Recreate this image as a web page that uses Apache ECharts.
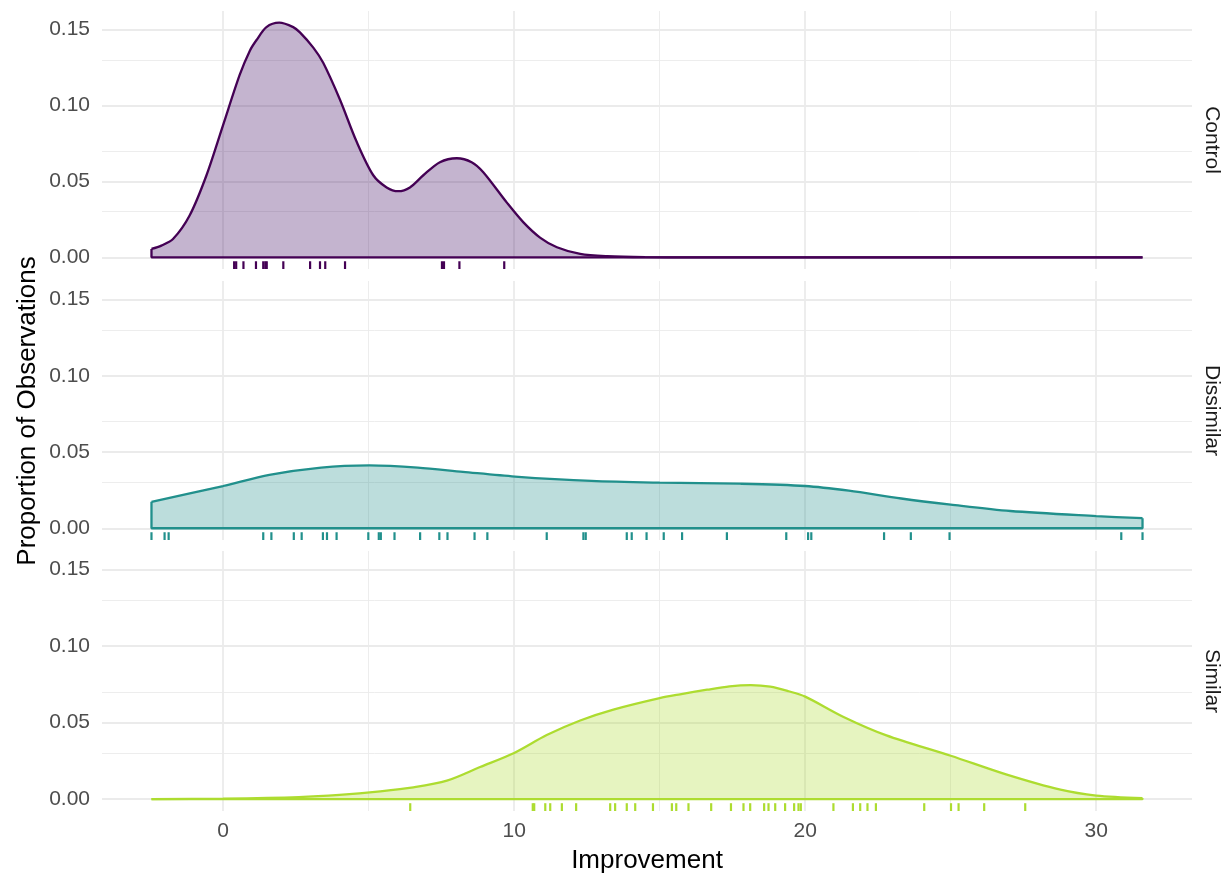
<!DOCTYPE html>
<html><head><meta charset="utf-8">
<script src="https://cdn.jsdelivr.net/npm/echarts@6/dist/echarts.min.js"></script>
<style>html,body{margin:0;padding:0;background:#fff}#c{width:1227px;height:877px}</style>
</head><body><div id="c"></div>
<script>
const groups = ['Control', 'Dissimilar', 'Similar'];
const lineColors = ['#440154', '#21908C', '#ADDC30'];
const fillColors = ['#3a0860', '#21908C', '#ADDC30'];

const controlDensity = [[-2.46,0.0055],[-2.12,0.0077],[-1.72,0.012],[-1.15,0.0275],[-0.57,0.054],[0,0.087],[0.57,0.120],[0.92,0.136],[1.15,0.143],[1.49,0.1515],[1.93,0.1544],[2.41,0.1515],[2.64,0.148],[3.1,0.138],[3.44,0.128],[4.01,0.104],[4.59,0.076],[5.16,0.054],[5.62,0.046],[6.02,0.0435],[6.42,0.046],[6.88,0.054],[7.45,0.0626],[8.03,0.0652],[8.54,0.0626],[8.94,0.056],[9.75,0.036],[10.32,0.023],[10.89,0.013],[11.47,0.0066],[12.27,0.0022],[13.2,0.0007],[14.5,0.0001],[16,0],[31.59,0]];
const dissimilarDensity = [[-2.46,0.0173],[0,0.0277],[1.59,0.035],[3.37,0.0398],[5.03,0.0412],[6.69,0.0398],[8.24,0.037],[10.03,0.0339],[12.66,0.031],[15.0,0.0299],[17.76,0.0292],[20.0,0.0277],[21.5,0.0246],[23.3,0.0195],[25.0,0.0155],[27.05,0.0113],[30.0,0.008],[31.59,0.0066]];
const similarDensity = [[-2.46,0],[0,0.0004],[2.6,0.0014],[4.0,0.0028],[5.4,0.0051],[6.54,0.0077],[7.69,0.0121],[8.83,0.021],[10.0,0.0302],[11.12,0.0419],[12.27,0.0514],[13.41,0.0585],[15.0,0.066],[15.7,0.0685],[16.63,0.0715],[17.4,0.0737],[18.13,0.0745],[18.8,0.0735],[19.43,0.0705],[20.0,0.067],[21.3,0.0539],[22.79,0.0417],[25.0,0.0284],[26.9,0.0162],[28.77,0.0062],[30.0,0.0024],[31.59,0.0007]];

const controlObs = [0.38,0.45,0.70,1.13,1.38,1.45,1.50,2.07,2.99,3.33,3.51,4.19,7.52,7.59,8.12,9.66];
const dissimilarObs = [-2.46,-2.01,-1.87,1.38,1.66,2.43,2.70,3.43,3.57,3.90,4.99,5.35,5.42,5.89,6.77,7.43,7.71,8.64,9.08,11.12,12.38,12.46,13.87,14.04,14.55,15.14,15.77,17.31,19.35,20.10,20.21,22.71,23.63,24.96,30.86,31.59];
const similarObs = [6.43,10.64,10.69,11.07,11.24,11.64,12.13,13.30,13.47,13.87,14.16,14.77,15.42,15.57,15.99,16.77,17.45,17.88,18.11,18.59,18.74,18.97,19.31,19.62,19.77,19.85,20.97,21.64,21.89,22.14,22.43,24.09,25.01,25.27,26.15,27.56];

const xTickLabels = [0, 10, 20, 30];
const xMinorLines = [5, 15, 25];
const yTickLabels = [0, 0.05, 0.10, 0.15];
const yMinorLines = [0.025, 0.075, 0.125];

const densities = [controlDensity, dissimilarDensity, similarDensity];
const observations = [controlObs, dissimilarObs, similarObs];

const xMin = -4.16, xMax = 33.29;
const yMin = -0.0077, yMax = 0.1621;
const gridTops = [11, 281, 551];
const gridHeights = [258, 259, 260];
const FONT = 'Liberation Sans';

const grids = [], xAxes = [], yAxes = [], series = [];
for (let i = 0; i < 3; i++) {
  grids.push({left: 102, width: 1090, top: gridTops[i], height: gridHeights[i], containLabel: false});
  xAxes.push({
    gridIndex: i, type: 'value', min: xMin, max: xMax,
    axisLine: {show: false}, axisTick: {show: false}, splitLine: {show: false},
    axisLabel: {show: i === 2, customValues: xTickLabels, fontSize: 21, color: '#4d4d4d', fontFamily: FONT, margin: 10}
  });
  yAxes.push({
    gridIndex: i, type: 'value', min: yMin, max: yMax,
    axisLine: {show: false}, axisTick: {show: false}, splitLine: {show: false},
    axisLabel: {customValues: yTickLabels, formatter: v => v.toFixed(2), fontSize: 21, color: '#4d4d4d', fontFamily: FONT, margin: 12}
  });
  const ml = [];
  xTickLabels.forEach(v => ml.push({xAxis: v, lineStyle: {width: 1.8}}));
  xMinorLines.forEach(v => ml.push({xAxis: v, lineStyle: {width: 0.9}}));
  yTickLabels.forEach(v => ml.push({yAxis: v, lineStyle: {width: 1.8}}));
  yMinorLines.forEach(v => ml.push({yAxis: v, lineStyle: {width: 0.9}}));
  series.push({
    type: 'line', xAxisIndex: i, yAxisIndex: i, z: 0, silent: true,
    data: [[xMin, 0]], showSymbol: false, lineStyle: {opacity: 0},
    markLine: {z: 0, silent: true, symbol: ['none', 'none'], label: {show: false}, animation: false,
      lineStyle: {color: '#ebebeb', type: 'solid'}, emphasis: {disabled: true}, data: ml}
  });
  const d = densities[i];
  series.push({
    type: 'line', xAxisIndex: i, yAxisIndex: i, z: 2, data: d,
    smooth: 0.3, showSymbol: false, silent: true,
    lineStyle: {color: lineColors[i], width: 2.3},
    areaStyle: {color: fillColors[i], opacity: 0.3}
  });
  const first = d[0], last = d[d.length - 1];
  series.push({
    type: 'line', xAxisIndex: i, yAxisIndex: i, z: 3, silent: true,
    data: [[first[0], first[1]], [first[0], 0], [last[0], 0], [last[0], last[1]]],
    showSymbol: false, lineStyle: {color: lineColors[i], width: 2.3}
  });
  const col = lineColors[i];
  series.push({
    type: 'custom', xAxisIndex: i, yAxisIndex: i, z: 3, silent: true,
    data: observations[i].map(v => [v, yMin]),
    encode: {x: 0, y: 1},
    renderItem: (params, api) => {
      const x = api.value(0);
      const p0 = api.coord([x, yMin]);
      const p1 = api.coord([x, yMin + 0.03 * (yMax - yMin)]);
      return {type: 'line', shape: {x1: p0[0], y1: p0[1], x2: p1[0], y2: p1[1]},
        style: {stroke: col, lineWidth: 2.2}};
    }
  });
}

const graphic = [
  {type: 'text', x: 647, y: 861, style: {text: 'Improvement', fontSize: 26, fontFamily: FONT, fill: '#000', textAlign: 'center', textVerticalAlign: 'middle'}},
  {type: 'text', x: 28, y: 411, rotation: Math.PI / 2, style: {text: 'Proportion of Observations', fontSize: 26, fontFamily: FONT, fill: '#000', textAlign: 'center', textVerticalAlign: 'middle'}}
];
groups.forEach((g, i) => {
  graphic.push({type: 'text', x: 1212, y: gridTops[i] + gridHeights[i] / 2, rotation: -Math.PI / 2,
    style: {text: g, fontSize: 21, fontFamily: FONT, fill: '#1a1a1a', textAlign: 'center', textVerticalAlign: 'middle'}});
});

const chart = echarts.init(document.getElementById('c'), null, {renderer: 'canvas'});
chart.setOption({
  animation: false,
  backgroundColor: '#ffffff',
  grid: grids, xAxis: xAxes, yAxis: yAxes, series: series, graphic: graphic
});
</script></body></html>
